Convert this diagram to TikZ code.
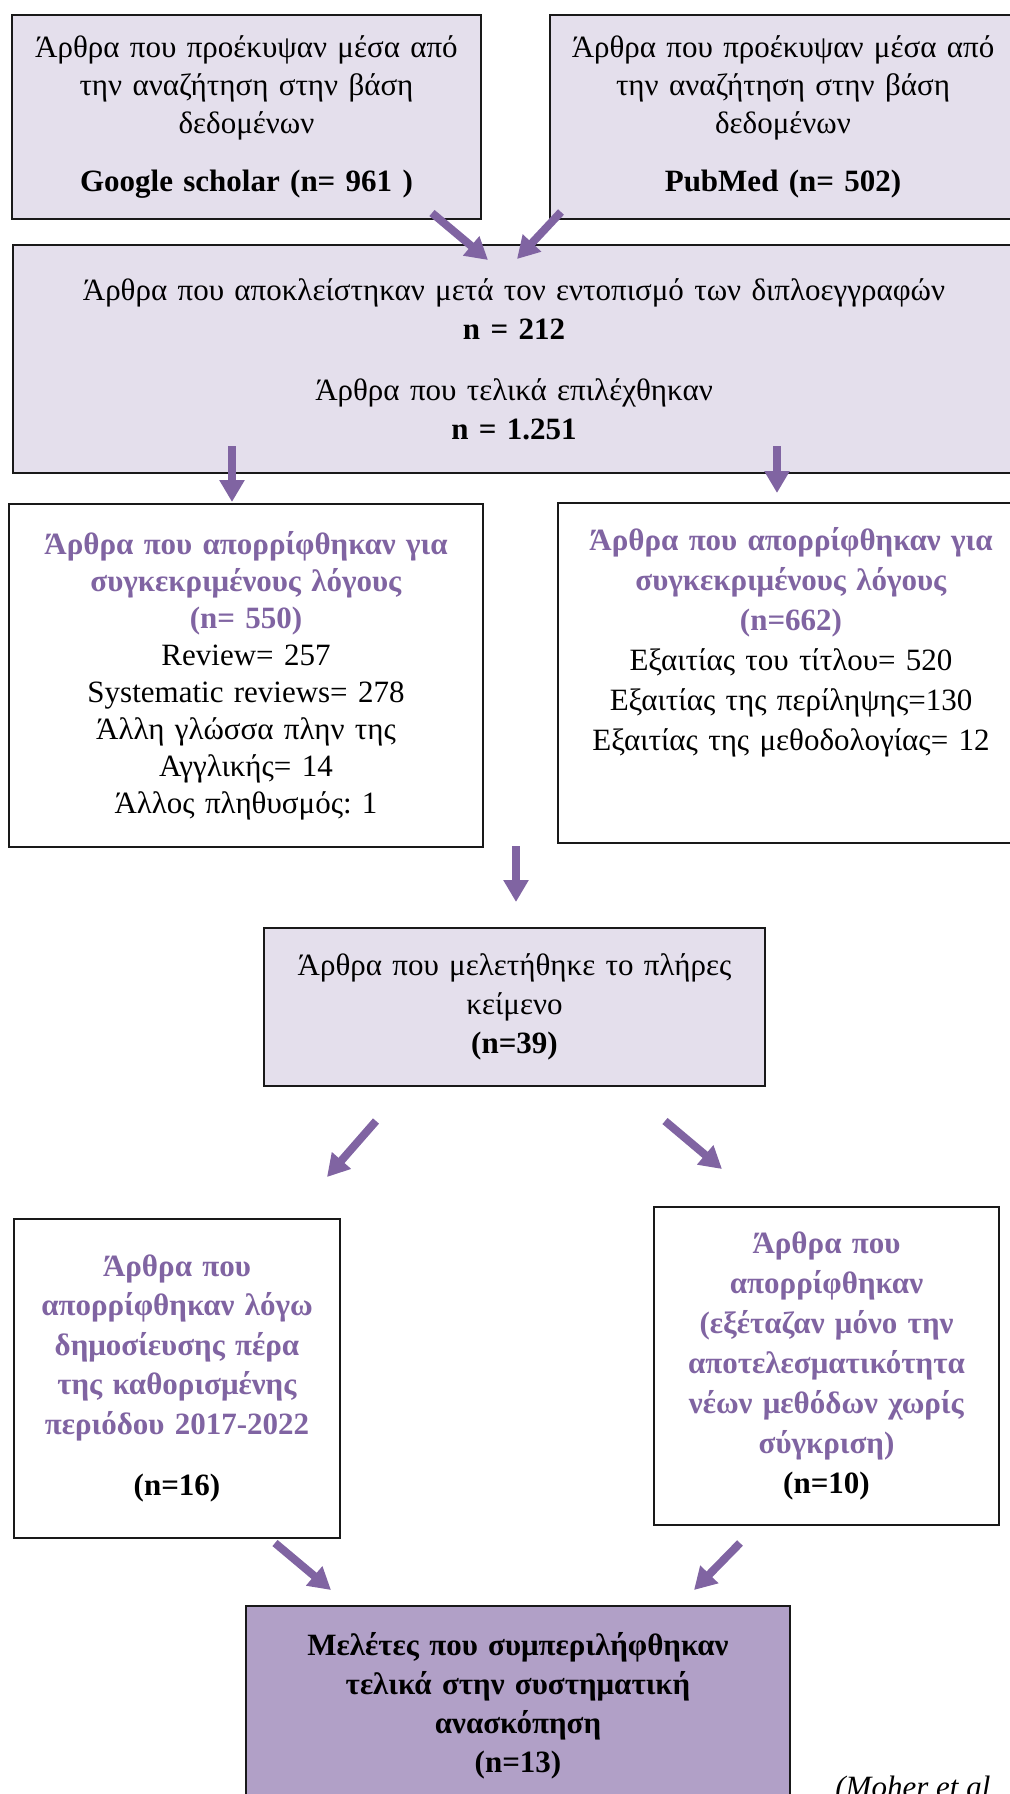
\documentclass[tikz,border=0pt]{standalone}
\usepackage{fontspec}
\setmainfont{Liberation Serif}
\usetikzlibrary{arrows.meta}
\frenchspacing

\definecolor{lavender}{HTML}{E4DFEC}
\definecolor{heather}{HTML}{B1A0C7}
\definecolor{accent}{HTML}{8064A2}
\newlength\pxu
\setlength\pxu{0.5pt}
\newcommand{\hl}[1]{\textcolor{accent}{\textbf{#1}}}

\tikzset{
    box/.style={draw=black!90, line width=1pt, fill=lavender, inner sep=0pt,
        align=center, anchor=north west, font=\fontsize{15.5}{19}\selectfont},
    plainbox/.style={box, fill=white},
    flow/.style={draw=accent, line width=4pt, -{Triangle[length=11pt,width=12pt]}},
}

\begin{document}
\begin{tikzpicture}[x=0.5pt, y=-0.5pt]
                \useasboundingbox (0,0) rectangle (1009,1794);
                \node[box, minimum width=469\pxu, minimum height=204\pxu, text width=449\pxu] (gs)
                    at (11,14) {Άρθρα που προέκυψαν μέσα από\\την αναζήτηση στην βάση\\δεδομένων\\[10pt]\textbf{Google scholar (n= 961 )}};
                \node[box, minimum width=466\pxu, minimum height=204\pxu, text width=446\pxu] (pm)
                    at (549,14) {Άρθρα που προέκυψαν μέσα από\\την αναζήτηση στην βάση\\δεδομένων\\[10pt]\textbf{PubMed (n= 502)}};
                \node[box, minimum width=1002\pxu, minimum height=228\pxu, text width=980\pxu,
                    font=\fontsize{15.5}{19.5}\selectfont] (dup)
                    at (12,244) {Άρθρα που αποκλείστηκαν μετά τον εντοπισμό των διπλοεγγραφών\\\textbf{n = 212}\\[11pt]Άρθρα που τελικά επιλέχθηκαν\\\textbf{n = 1.251}};
                \node[plainbox, minimum width=474\pxu, minimum height=343\pxu, text width=454\pxu,
                    font=\fontsize{15.5}{18.5}\selectfont] (rejA)
                    at (8,503) {\hl{Άρθρα που απορρίφθηκαν για}\\\hl{συγκεκριμένους λόγους}\\\hl{(n= 550)}\\Review= 257\\Systematic reviews= 278\\Άλλη γλώσσα πλην της\\Αγγλικής= 14\\Άλλος πληθυσμός: 1};
                \node[plainbox, minimum width=466\pxu, minimum height=340\pxu, text width=446\pxu,
                    font=\fontsize{15.5}{20}\selectfont, text depth=134pt] (rejB)
                    at (557,502) {\hl{Άρθρα που απορρίφθηκαν για}\\\hl{συγκεκριμένους λόγους}\\\hl{(n=662)}\\Εξαιτίας του τίτλου= 520\\Εξαιτίας της περίληψης=130\\Εξαιτίας της μεθοδολογίας= 12};
                \node[box, minimum width=501\pxu, minimum height=158\pxu, text width=481\pxu,
                    font=\fontsize{15.5}{19.5}\selectfont] (full)
                    at (263,927) {Άρθρα που μελετήθηκε το πλήρες\\κείμενο\\\textbf{(n=39)}};
                \node[plainbox, minimum width=326\pxu, minimum height=319\pxu, text width=310\pxu,
                    font=\fontsize{15.5}{19.75}\selectfont] (period)
                    at (13,1218) {\hl{Άρθρα που}\\\hl{απορρίφθηκαν λόγω}\\\hl{δημοσίευσης πέρα}\\\hl{της καθορισμένης}\\\hl{περιόδου 2017-2022}\\[11pt]\textbf{(n=16)}};
                \node[plainbox, minimum width=345\pxu, minimum height=318\pxu, text width=329\pxu,
                    font=\fontsize{15.5}{20}\selectfont] (method)
                    at (653,1206) {\hl{Άρθρα που}\\\hl{απορρίφθηκαν}\\\hl{(εξέταζαν μόνο την}\\\hl{αποτελεσματικότητα}\\\hl{νέων μεθόδων χωρίς}\\\hl{σύγκριση)}\\\textbf{(n=10)}};
                \node[box, fill=heather, minimum width=544\pxu, minimum height=200\pxu, text width=524\pxu,
                    font=\fontsize{15.5}{19.5}\selectfont\bfseries] (incl)
                    at (245,1605) {Μελέτες που συμπεριλήφθηκαν\\τελικά στην συστηματική\\ανασκόπηση\\(n=13)};
                \node[anchor=north west, inner sep=0pt, font=\fontsize{15.5}{19}\selectfont\itshape] (cite)
                    at (835,1776) {(Moher et al};
                \coordinate (gsTail) at (432,213);
                \coordinate (gsHead) at (488,260);
                \coordinate (pmTail) at (561,212);
                \coordinate (pmHead) at (517,259);
                \coordinate (rejATail) at (232,446);
                \coordinate (rejAHead) at (232,502);
                \coordinate (rejBTail) at (777,446);
                \coordinate (rejBHead) at (777,493);
                \coordinate (fullTail) at (516,846);
                \coordinate (fullHead) at (516,902);
                \coordinate (periodTail) at (376,1121);
                \coordinate (periodHead) at (327,1177);
                \coordinate (methodTail) at (665,1121);
                \coordinate (methodHead) at (722,1169);
                \coordinate (inclLTail) at (275,1543);
                \coordinate (inclLHead) at (331,1590);
                \coordinate (inclRTail) at (740,1543);
                \coordinate (inclRHead) at (694,1590);
                \draw[flow]
                    (gsTail) -- (gsHead);
                \draw[flow]
                    (pmTail) -- (pmHead);
                \draw[flow]
                    (rejATail) -- (rejAHead);
                \draw[flow]
                    (rejBTail) -- (rejBHead);
                \draw[flow]
                    (fullTail) -- (fullHead);
                \draw[flow]
                    (periodTail) -- (periodHead);
                \draw[flow]
                    (methodTail) -- (methodHead);
                \draw[flow]
                    (inclLTail) -- (inclLHead);
                \draw[flow]
                    (inclRTail) -- (inclRHead);
            \end{tikzpicture}
\end{document}
